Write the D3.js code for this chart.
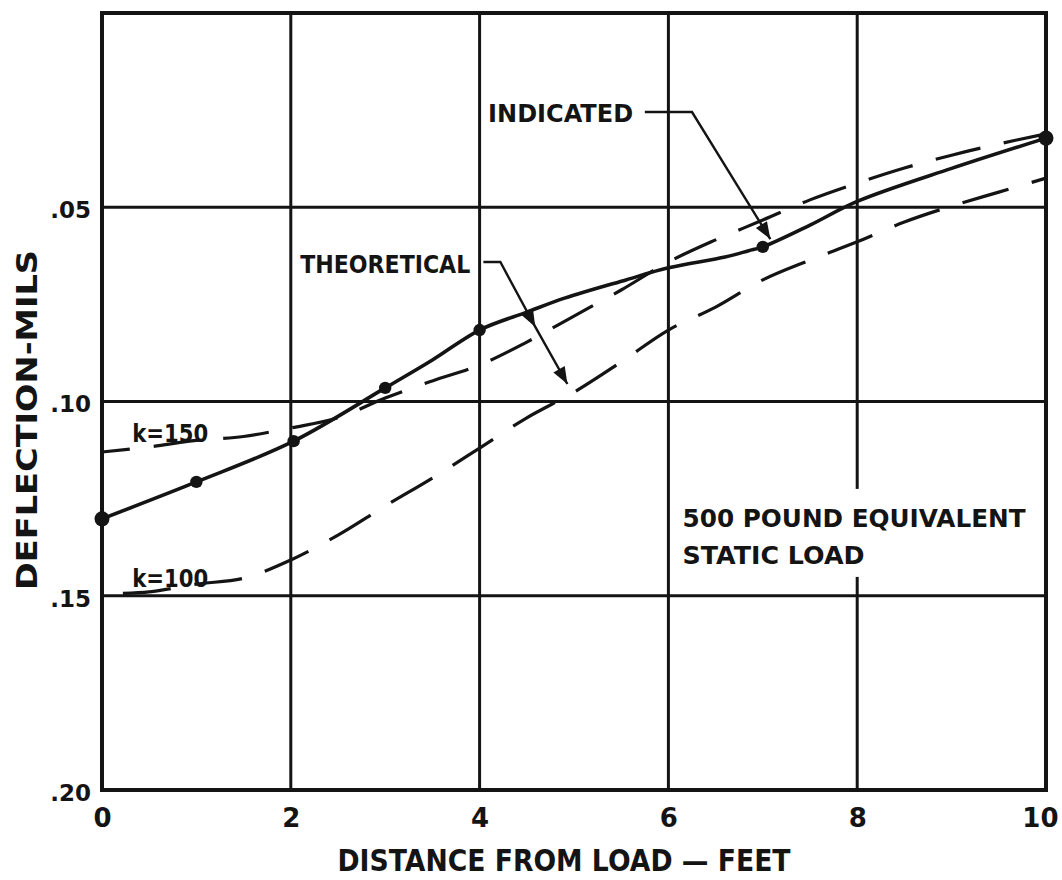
<!DOCTYPE html>
<html>
<head>
<meta charset="utf-8">
<script src="https://cdn.jsdelivr.net/npm/d3@7"></script>
<style>
  html, body { margin: 0; padding: 0; background: #fff; }
  svg { display: block; }
  text { font-family: "DejaVu Sans", "Liberation Sans", sans-serif; font-weight: bold; fill: #141414; }
</style>
</head>
<body>
<svg id="chart" width="1062" height="880"></svg>
<script>
// ---- Data: deflection (mils) vs distance from load (feet) ----
const xTickValues = [0, 2, 4, 6, 8, 10];
const xTickLabels = ["0", "2", "4", "6", "8", "10"];
const yTickValues = [0.05, 0.10, 0.15, 0.20];
const yTickLabels = [".05", ".10", ".15", ".20"];
const xGrid = [2, 4, 6, 8];
const yGrid = [0.05, 0.10, 0.15];

// Indicated deflection curve (traced through the measured points)
const indicatedDist = [0, 1, 2.03, 3, 3.5, 4, 4.5, 4.9, 5.55, 6, 6.6, 6.85, 7, 7.5, 8, 9, 10];
const indicatedDefl = [0.1302, 0.1207, 0.1102, 0.0965, 0.0893, 0.0816, 0.0770, 0.0734, 0.0687,
                       0.0656, 0.0628, 0.0612, 0.0602, 0.0546, 0.0485, 0.0400, 0.0322];

// Measured points on the indicated curve
const measuredDist = [0, 1, 2.03, 3, 4, 7, 10];
const measuredDefl = [0.1302, 0.1207, 0.1102, 0.0965, 0.0816, 0.0602, 0.0322];

// Theoretical curves, every half foot
const theoryDist = [0, 0.5, 1, 1.5, 2, 2.5, 3, 3.5, 4, 4.5, 5, 5.5, 6, 6.5, 7, 7.5, 8, 8.5, 9, 9.5, 10];
const k150Defl = [0.1130, 0.1117, 0.1100, 0.1090, 0.1068, 0.1042, 0.0991, 0.0947, 0.0906, 0.0847, 0.0780,
                  0.0713, 0.0641, 0.0584, 0.0533, 0.0481, 0.0438, 0.0399, 0.0366, 0.0337, 0.0311];
const k100Defl = [0.1495, 0.1490, 0.1470, 0.1455, 0.1408, 0.1344, 0.1269, 0.1197, 0.1120, 0.1042, 0.0976,
                  0.0898, 0.0816, 0.0757, 0.0687, 0.0636, 0.0589, 0.0538, 0.0497, 0.0461, 0.0425];

// ---- Layout ----
const svg = d3.select("#chart");
const plotLeft = 102, plotRight = 1046, plotTop = 13, plotBottom = 790;
const x = d3.scaleLinear().domain([0, 10]).range([plotLeft, plotRight]);
const y = d3.scaleLinear().domain([0, 0.20]).range([plotTop, plotBottom]);
const ink = "#141414";

// Grid lines
const grid = svg.append("g").attr("stroke", ink).attr("stroke-width", 3);
grid.selectAll("line.vx").data(xGrid).join("line")
  .attr("x1", d => x(d)).attr("x2", d => x(d)).attr("y1", plotTop).attr("y2", plotBottom);
grid.selectAll("line.hy").data(yGrid).join("line")
  .attr("x1", plotLeft).attr("x2", plotRight).attr("y1", d => y(d)).attr("y2", d => y(d));

// Plot frame
svg.append("rect")
  .attr("x", plotLeft).attr("y", plotTop).attr("width", plotRight - plotLeft).attr("height", plotBottom - plotTop)
  .attr("fill", "none").attr("stroke", ink).attr("stroke-width", 4);

// Axis tick labels (the last one is pulled in so it stays on the page)
const xAxis = d3.axisBottom(x).tickValues(xTickValues).tickSize(0).tickPadding(19)
  .tickFormat((d, i) => xTickLabels[i]);
const gx = svg.append("g").attr("transform", `translate(0,${plotBottom})`).call(xAxis);
gx.select(".domain").remove();
gx.selectAll("text").attr("font-size", 26).attr("font-family", "DejaVu Sans").attr("font-weight", "bold").attr("fill", ink)
  .attr("text-anchor", d => d === 10 ? "end" : "middle")
  .attr("dx", d => d === 10 ? 12 : 0);

const yAxis = d3.axisLeft(y).tickValues(yTickValues).tickSize(0).tickPadding(11)
  .tickFormat((d, i) => yTickLabels[i]);
const gy = svg.append("g").attr("transform", `translate(${plotLeft},3)`).call(yAxis);
gy.select(".domain").remove();
gy.selectAll("text").attr("font-size", 23).attr("font-family", "DejaVu Sans").attr("font-weight", "bold").attr("fill", ink);

// Axis titles
svg.append("text")
  .attr("x", 564).attr("y", 871)
  .attr("text-anchor", "middle").attr("font-size", 31)
  .attr("textLength", 453).attr("lengthAdjust", "spacingAndGlyphs")
  .text("DISTANCE FROM LOAD \u2014 FEET");

svg.append("text")
  .attr("transform", "translate(37,420) rotate(-90)")
  .attr("text-anchor", "middle").attr("font-size", 29)
  .attr("textLength", 340).attr("lengthAdjust", "spacingAndGlyphs")
  .text("DEFLECTION-MILS");

// Theoretical curves (dashed)
const theoryLine = vals => d3.line()
  .x((d, i) => x(theoryDist[i]))
  .y((d, i) => y(vals[i]))
  .curve(d3.curveCatmullRom.alpha(0.5))(vals);

svg.append("path").attr("d", theoryLine(k150Defl))
  .attr("fill", "none").attr("stroke", ink).attr("stroke-width", 3.2)
  .attr("stroke-dasharray", "46 24").attr("stroke-dashoffset", 18);

svg.append("path").attr("d", theoryLine(k100Defl))
  .attr("fill", "none").attr("stroke", ink).attr("stroke-width", 3.2)
  .attr("stroke-dasharray", "48 24").attr("stroke-dashoffset", 51);

// Indicated curve (solid) and measured points
const indicatedPath = d3.line()
  .x((d, i) => x(indicatedDist[i]))
  .y((d, i) => y(indicatedDefl[i]))
  .curve(d3.curveCatmullRom.alpha(0.5))(indicatedDefl);

svg.append("path").attr("d", indicatedPath)
  .attr("fill", "none").attr("stroke", ink).attr("stroke-width", 3.6)
  .attr("stroke-linejoin", "round");

svg.selectAll("circle.pt").data(measuredDefl).join("circle")
  .attr("cx", (d, i) => x(measuredDist[i]))
  .attr("cy", d => y(d))
  .attr("r", (d, i) => (i === 0 || i === measuredDefl.length - 1) ? 7.5 : 6.2)
  .attr("fill", ink);

// Curve labels
svg.append("text").attr("x", x(0.32)).attr("y", y(0.1104))
  .attr("font-size", 25).attr("font-weight", "normal")
  .attr("textLength", 76).attr("lengthAdjust", "spacingAndGlyphs").text("k=150");
svg.append("text").attr("x", x(0.32)).attr("y", y(0.1478))
  .attr("font-size", 25).attr("font-weight", "normal")
  .attr("textLength", 76).attr("lengthAdjust", "spacingAndGlyphs").text("k=100");

// Load note, on a white patch
svg.append("rect").attr("x", x(6.12)).attr("y", y(0.1225)).attr("width", 350).attr("height", 88)
  .attr("fill", "#fff");
svg.append("text").attr("x", x(6.15)).attr("y", y(0.1322))
  .attr("font-size", 24).attr("textLength", 343).attr("lengthAdjust", "spacingAndGlyphs")
  .text("500 POUND EQUIVALENT");
svg.append("text").attr("x", x(6.15)).attr("y", y(0.1417))
  .attr("font-size", 24).attr("textLength", 182).attr("lengthAdjust", "spacingAndGlyphs")
  .text("STATIC LOAD");

// Leader labels with arrowheads
function arrowHead(g, from, to) {
  const dx = to[0] - from[0], dy = to[1] - from[1];
  const len = Math.hypot(dx, dy), ux = dx / len, uy = dy / len;
  const L = 17, W = 6.5;
  const bx = to[0] - ux * L, by = to[1] - uy * L;
  g.append("path")
    .attr("d", `M${to[0]},${to[1]}L${bx - uy * W},${by + ux * W}L${bx + uy * W},${by - ux * W}Z`)
    .attr("fill", ink);
}

// INDICATED
const indLabel = svg.append("g");
indLabel.append("text").attr("x", x(4.09)).attr("y", y(0.0281))
  .attr("font-size", 25).attr("textLength", 145).attr("lengthAdjust", "spacingAndGlyphs")
  .text("INDICATED");
const indPts = [[x(5.75), y(0.0255)], [x(6.25), y(0.0255)], [x(7.08), y(0.0582)]];
indLabel.append("path").attr("d", d3.line()(indPts))
  .attr("fill", "none").attr("stroke", ink).attr("stroke-width", 2.4);
arrowHead(indLabel, indPts[1], indPts[2]);

// THEORETICAL
const thLabel = svg.append("g");
thLabel.append("rect").attr("x", x(2.06)).attr("y", y(0.0595)).attr("width", 176).attr("height", 28)
  .attr("fill", "#fff");
thLabel.append("text").attr("x", x(2.1)).attr("y", y(0.0668))
  .attr("font-size", 25).attr("textLength", 170).attr("lengthAdjust", "spacingAndGlyphs")
  .text("THEORETICAL");
const thPts = [[x(4.04), y(0.0641)], [x(4.22), y(0.0641)], [x(4.59), y(0.0808)], [x(4.93), y(0.0955)]];
thLabel.append("path").attr("d", d3.line()(thPts))
  .attr("fill", "none").attr("stroke", ink).attr("stroke-width", 2.4);
arrowHead(thLabel, thPts[1], thPts[2]);
arrowHead(thLabel, thPts[2], thPts[3]);
</script>
</body>
</html>
